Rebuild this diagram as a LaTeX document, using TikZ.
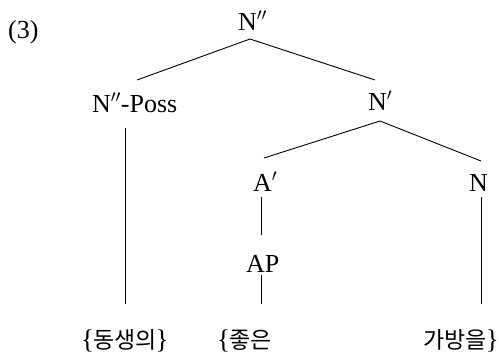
\documentclass[tikz,border=0pt]{standalone}
\usepackage{fontspec}
\setmainfont{Liberation Serif}
\newfontfamily\kofont{Noto Sans CJK KR}
\newcommand{\lbr}{{\fontsize{27}{30}\selectfont\{}\kern-1pt}
\newcommand{\rbr}{\kern-1pt{\fontsize{27}{30}\selectfont\}}}
\begin{document}
\begin{tikzpicture}[x=1pt,y=-1pt,
  lab/.style={inner sep=0pt,font=\fontsize{26}{30}\selectfont},
  ko/.style={inner sep=0pt,font=\fontsize{23}{28}\selectfont},
  edge/.style={line width=0.9pt}]
\useasboundingbox (0,0) rectangle (499,354);
\node[lab,anchor=base west] (ex) at (8,38) {(3)};
\node[lab,anchor=base west] (Npp) at (238,30) {N$''$};
\node[lab,anchor=base west] (Poss) at (92,112) {N$''$-Poss};
\node[lab,anchor=base west] (Np) at (368,110) {N$'$};
\node[lab,anchor=base west] (Ap) at (253,191) {A$'$};
\node[lab,anchor=base west] (N) at (469,191) {N};
\node[lab,anchor=base west] (AP) at (246,272) {AP};
\node[ko,anchor=base west] (w1) at (81,348) {\lbr{\kofont 동생의}\rbr};
\node[ko,anchor=base west] (w2) at (217,348) {\lbr{\kofont 좋은}};
\node[ko,anchor=base east] (w3) at (499,348) {{\kofont 가방을}\rbr};
% connection points
\path (Npp.base west) ++(12,9) coordinate (Npp-d);
\path (Poss.base west) ++(33,16) coordinate (Poss-d);
\path (Np.base west) ++(12,11) coordinate (Np-d);
\path (Ap.base west) ++(8,6) coordinate (Ap-d);
\path (N.base west) ++(12,6) coordinate (N-d);
\path (AP.base west) ++(15,3) coordinate (AP-d);
\path (Ap.north) ++(0,-15) coordinate (Ap-u);
\path (AP.north) ++(0,-20) coordinate (AP-u);
\coordinate (w-u) at (0,304);
\draw[edge] (Npp-d) -- (137,80);
\draw[edge] (Npp-d) -- (375,80);
\draw[edge] (Poss-d) -- (Poss-d |- w-u);
\draw[edge] (Np-d) -- (264,158);
\draw[edge] (Np-d) -- (481,161);
\draw[edge] (Ap-d) -- (Ap-d |- AP-u);
\draw[edge] (AP-d) -- (AP-d |- w-u);
\draw[edge] (N-d) -- (N-d |- w-u);
\end{tikzpicture}
\end{document}
